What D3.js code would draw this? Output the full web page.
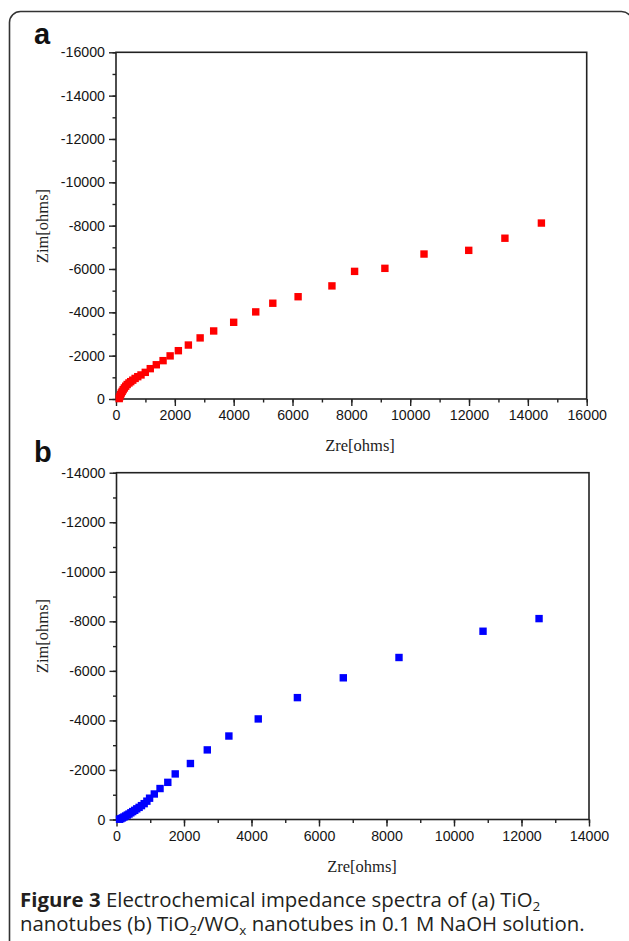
<!DOCTYPE html>
<html>
<head>
<meta charset="utf-8">
<script src="https://cdn.jsdelivr.net/npm/d3@7"></script>
<style>
  html, body { margin: 0; padding: 0; background: #fff; }
  svg { display: block; }
</style>
</head>
<body>
<svg id="fig" width="629" height="941"></svg>
<script>
// Panel (a): TiO2 nanotubes — Nyquist data, Zre vs Zim (ohms)
const zreA = [110, 130, 155, 180, 210, 245, 285, 330, 380, 440, 500, 570, 650, 740, 850,
              995, 1165, 1370, 1600, 1840, 2120, 2460, 2860, 3320, 4000, 4750, 5330,
              6190, 7340, 8110, 9140, 10470, 11990, 13220, 14460];
const zimA = [-20, -110, -200, -280, -350, -430, -510, -590, -670, -740, -800, -870, -950, -1030, -1110,
              -1230, -1400, -1580, -1770, -1990, -2230, -2490, -2820, -3140, -3540, -4020, -4420,
              -4720, -5220, -5890, -6030, -6690, -6860, -7420, -8120];

// Panel (b): TiO2/WOx nanotubes
const zreB = [90, 130, 175, 220, 270, 320, 370, 425, 480, 540, 600, 670, 740, 820, 900,
              980, 1120, 1290, 1520, 1740, 2190, 2690, 3330, 4200, 5360, 6720, 8370,
              10860, 12520];
const zimB = [-10, -35, -65, -100, -140, -180, -220, -270, -320, -370, -430, -490, -560, -640, -740,
              -860, -1030, -1250, -1500, -1840, -2260, -2810, -3370, -4060, -4920, -5720, -6540,
              -7600, -8110];

const ticksA = [0, 2000, 4000, 6000, 8000, 10000, 12000, 14000, 16000];
const ticksB = [0, 2000, 4000, 6000, 8000, 10000, 12000, 14000];
const xLabel = "Zre[ohms]";
const yLabel = "Zim[ohms]";

const svg = d3.select("#fig");

// rounded figure frame (runs off the right and bottom edges)
svg.append("rect")
  .attr("x", 9.5).attr("y", 11.5)
  .attr("width", 623).attr("height", 980)
  .attr("rx", 11).attr("ry", 11)
  .attr("fill", "none").attr("stroke", "#333").attr("stroke-width", 1.6);

function panel(cfg) {
  const g = svg.append("g");
  const x = d3.scaleLinear().domain([0, cfg.max]).range([cfg.left, cfg.right]);
  const y = d3.scaleLinear().domain([0, -cfg.max]).range([cfg.bottom, cfg.top]);
  const fmt = d => String(Math.round(d) === 0 ? 0 : Math.round(d));
  const minor = d3.range(0, cfg.max + 1, 1000);

  // box
  g.append("rect")
    .attr("x", cfg.left).attr("y", cfg.top)
    .attr("width", cfg.right - cfg.left).attr("height", cfg.bottom - cfg.top)
    .attr("fill", "none").attr("stroke", "#222").attr("stroke-width", 1.6);

  // minor ticks
  g.append("g").attr("transform", `translate(0,${cfg.bottom})`)
    .call(d3.axisBottom(x).tickValues(minor).tickSize(3.5).tickFormat(""))
    .call(a => a.select(".domain").remove());
  g.append("g").attr("transform", `translate(${cfg.left},0)`)
    .call(d3.axisLeft(y).tickValues(minor.map(v => -v)).tickSize(3.5).tickFormat(""))
    .call(a => a.select(".domain").remove());

  // major ticks with labels
  const xa = g.append("g").attr("transform", `translate(0,${cfg.bottom})`)
    .call(d3.axisBottom(x).tickValues(cfg.ticks).tickSize(7).tickPadding(4).tickFormat(fmt));
  const ya = g.append("g").attr("transform", `translate(${cfg.left},0)`)
    .call(d3.axisLeft(y).tickValues(cfg.ticks.map(v => -v)).tickSize(7).tickPadding(4).tickFormat(fmt));
  [xa, ya].forEach(a => {
    a.select(".domain").remove();
    a.selectAll("text").attr("font-family", "'Liberation Sans', Arial, sans-serif")
      .attr("font-size", 14.2).attr("fill", "#151515");
  });
  g.selectAll(".tick line").attr("stroke", "#222").attr("stroke-width", 1.4);

  // markers
  const s = 7.4;
  g.append("g").selectAll("rect")
    .data(cfg.xs.map((v, i) => [v, cfg.ys[i]]))
    .join("rect")
    .attr("x", d => x(d[0]) - s / 2).attr("y", d => y(d[1]) - s / 2)
    .attr("width", s).attr("height", s)
    .attr("fill", cfg.color);

  // axis titles
  g.append("text")
    .attr("x", cfg.xlabX).attr("y", cfg.bottom + 52)
    .attr("text-anchor", "middle")
    .attr("font-family", "'Liberation Serif', 'Times New Roman', serif")
    .attr("font-size", 16.5).attr("fill", "#222")
    .text(xLabel);
  g.append("text")
    .attr("transform", `translate(48,${cfg.ylabY}) rotate(-90)`)
    .attr("text-anchor", "middle")
    .attr("font-family", "'Liberation Serif', 'Times New Roman', serif")
    .attr("font-size", 16.5).attr("fill", "#222")
    .text(yLabel);

  // panel letter
  g.append("text")
    .attr("x", 34).attr("y", cfg.letterY)
    .attr("font-family", "'Liberation Sans', Arial, sans-serif")
    .attr("font-weight", "bold").attr("font-size", 29).attr("fill", "#111")
    .text(cfg.letter);
}

panel({ letter: "a", letterY: 44, max: 16000, ticks: ticksA,
        left: 116, right: 586.7, top: 52.3, bottom: 399,
        xs: zreA, ys: zimA, color: "#ff0000", xlabX: 360, ylabY: 226 });
panel({ letter: "b", letterY: 462, max: 14000, ticks: ticksB,
        left: 116.5, right: 589, top: 472.7, bottom: 819.5,
        xs: zreB, ys: zimB, color: "#0000ff", xlabX: 362, ylabY: 636 });

// caption
const cap = svg.append("text")
  .attr("font-family", "'Open Sans', 'Noto Sans', sans-serif")
  .attr("font-size", 20.4).attr("fill", "#231f20");
const l1 = cap.append("tspan").attr("x", 20).attr("y", 907);
l1.append("tspan").attr("font-weight", "bold").text("Figure 3");
l1.append("tspan").text(" Electrochemical impedance spectra of (a) TiO");
l1.append("tspan").attr("font-size", 13.5).attr("dy", 4).text("2");
const l2 = cap.append("tspan").attr("x", 20).attr("y", 931);
l2.append("tspan").text("nanotubes (b) TiO");
l2.append("tspan").attr("font-size", 13.5).attr("dy", 4).text("2");
l2.append("tspan").attr("dy", -4).text("/WO");
l2.append("tspan").attr("font-size", 13.5).attr("dy", 4).text("x");
l2.append("tspan").attr("dy", -4).text(" nanotubes in 0.1 M NaOH solution.");
</script>
</body>
</html>
